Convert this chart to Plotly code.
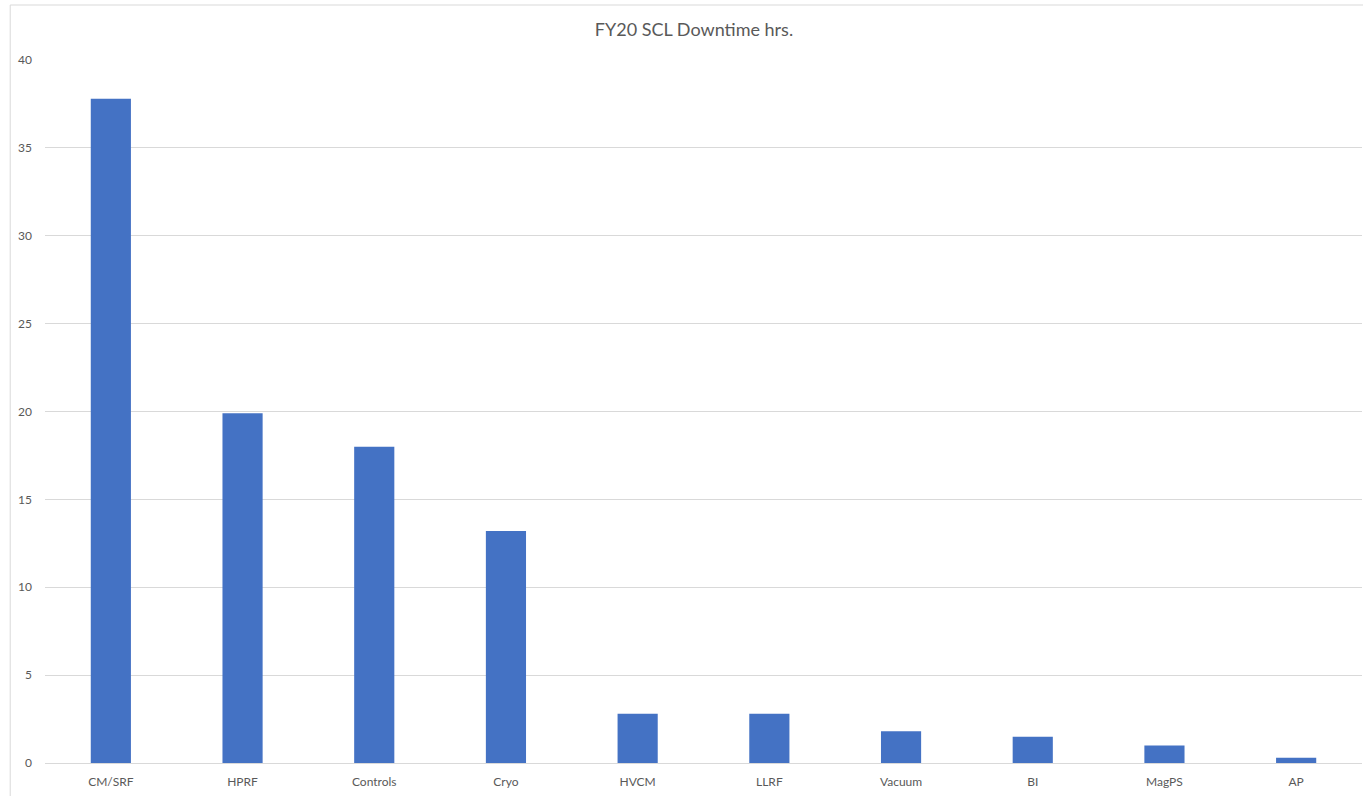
import plotly.graph_objects as go

categories = ["CM/SRF", "HPRF", "Controls", "Cryo", "HVCM", "LLRF", "Vacuum", "BI", "MagPS", "AP"]
downtime_hrs = [37.8, 19.9, 18.0, 13.2, 2.8, 2.8, 1.8, 1.5, 1.0, 0.3]
y_ticks = [0, 5, 10, 15, 20, 25, 30, 35, 40]

W, H = 1363, 796
FONT = "Lato, 'Open Sans', sans-serif"
TXT = "#595959"

fig = go.Figure()
fig.add_trace(go.Bar(
    x=categories, y=downtime_hrs,
    marker=dict(color="#4472C4", line=dict(width=0)),
    width=0.305,
))

fig.update_layout(
    width=W, height=H,
    margin=dict(l=45, r=1, t=60, b=33, pad=0),
    paper_bgcolor="white", plot_bgcolor="white",
    showlegend=False,
    font=dict(family=FONT, color=TXT, size=12),
    title=dict(text="FY20 SCL Downtime hrs.", x=694 / W, xanchor="center",
               y=1 - 30 / H, yanchor="middle",
               font=dict(family=FONT, size=18, color=TXT)),
    xaxis=dict(showgrid=False, showline=True, linecolor="#d9d9d9", linewidth=1,
               ticks="", ticklabelstandoff=8, tickfont=dict(size=12, color=TXT),
               range=[-0.5, len(categories) - 0.5], fixedrange=True),
    yaxis=dict(range=[0, 40], tickvals=y_ticks, showgrid=True, gridcolor="#d9d9d9",
               gridwidth=1, zeroline=False, showline=False, ticks="",
               ticklabelstandoff=12, tickfont=dict(size=12, color=TXT), fixedrange=True),
    shapes=[dict(type="rect", xref="paper", yref="paper",
                 x0=-36 / W, x1=1.01, y0=-0.05, y1=1 + 55 / (H - 93),
                 line=dict(color="#d9d9d9", width=1), fillcolor="rgba(0,0,0,0)", layer="below")],
)

fig.write_html("out.html", config={"displayModeBar": False})
